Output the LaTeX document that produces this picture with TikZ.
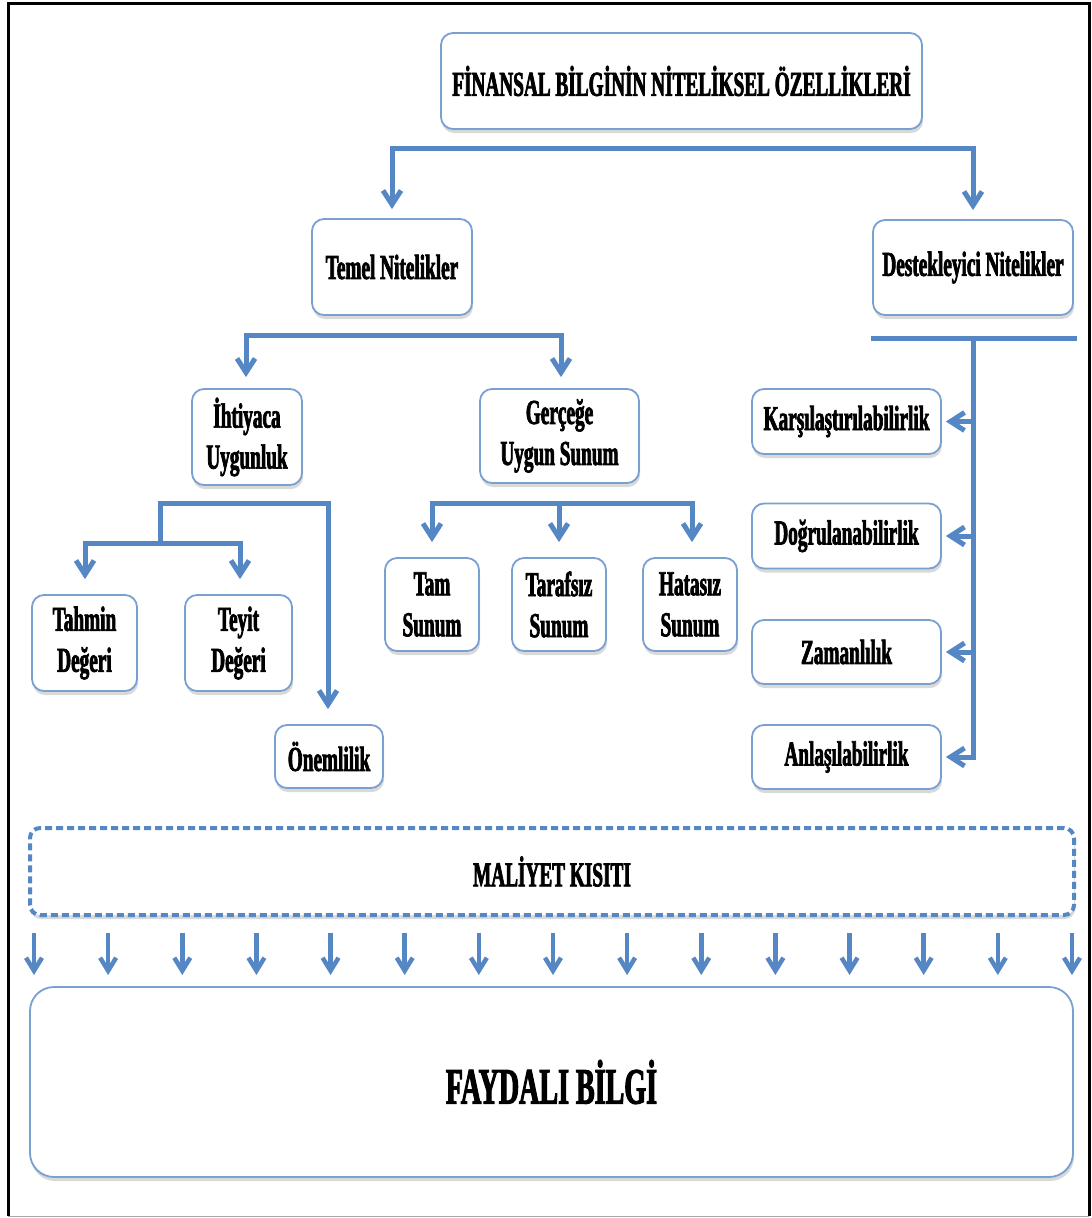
\documentclass[tikz,border=0pt]{standalone}
\usepackage{fontspec}
\setmainfont{Liberation Serif Bold}[FakeStretch=0.55, FakeBold=2]
\usetikzlibrary{arrows.meta,shadows}
\definecolor{linec}{RGB}{84,135,196}
\definecolor{boxc}{RGB}{122,160,210}
\begin{document}
\begin{tikzpicture}[x=1pt,y=-1pt,
  box/.style={draw=boxc, line width=1.8pt, rounded corners=12pt, fill=white, align=center,
    inner sep=0pt, font=\fontsize{35}{41}\selectfont,
    drop shadow={shadow xshift=1pt,shadow yshift=-4pt,opacity=0.15,fill=black}},
  conn/.style={draw=linec, line width=5pt, line cap=rect},
  arr/.style={draw=linec, line width=5pt, -{Straight Barb[length=14pt,width=18pt]}},
  sarr/.style={draw=linec, line width=4.5pt, -{Straight Barb[length=13pt,width=16pt]}},
]
\useasboundingbox (0,0) rectangle (1092,1218);
\fill[white] (0,0) rectangle (1092,1218);
% frame
\draw[black, line width=3pt] (8,1216) -- (8,3) -- (1089,3) -- (1089,1216);
\draw[gray!70, line width=1pt] (8,1216) -- (1089,1216);

% nodes
\node[box, minimum width=481, minimum height=96] (title) at (681.5,81) {FİNANSAL BİLGİNİN NİTELİKSEL ÖZELLİKLERİ};
\node[box, minimum width=160, minimum height=96] (temel) at (392,267) {Temel Nitelikler};
\node[box, minimum width=200, minimum height=95] (destek) at (973,267.5) {Destekleyici Nitelikler};
\node[box, minimum width=110, minimum height=96] (ihti) at (247,437) {İhtiyaca\\Uygunluk};
\node[box, minimum width=159, minimum height=94] (gerc) at (559.5,436) {Gerçeğe\\Uygun Sunum};
\node[box, minimum width=105, minimum height=96] (tahmin) at (84.5,643) {Tahmin\\Değeri};
\node[box, minimum width=107, minimum height=96] (teyit) at (238.5,643) {Teyit\\Değeri};
\node[box, minimum width=108, minimum height=63] (onem) at (329,756.5) {Önemlilik};
\node[box, minimum width=94, minimum height=93] (tam) at (432,604.5) {Tam\\Sunum};
\node[box, minimum width=94, minimum height=93] (taraf) at (559,604.5) {Tarafsız\\Sunum};
\node[box, minimum width=94, minimum height=93] (hata) at (690,604.5) {Hatasız\\Sunum};
\node[box, minimum width=189, minimum height=65] (kars) at (846.5,421.5) {Karşılaştırılabilirlik};
\node[box, minimum width=189, minimum height=65] (dogru) at (846.5,536) {Doğrulanabilirlik};
\node[box, minimum width=189, minimum height=64] (zaman) at (846.5,652) {Zamanlılık};
\node[box, minimum width=189, minimum height=64] (anla) at (846.5,757) {Anlaşılabilirlik};
\node[box, draw=linec, line width=4pt, dash pattern=on 7pt off 4pt, rounded corners=10pt,
  minimum width=1044, minimum height=87] (maliyet) at (552,871.5) {MALİYET KISITI};
\node[box, rounded corners=24pt, minimum width=1043, minimum height=190,
  font=\fontsize{51}{58}\selectfont] (fayda) at (551.5,1082) {FAYDALI BİLGİ};

% title bracket
\coordinate (t1) at (392,148);
\coordinate (t2) at (973,148);
\draw[conn] (t1) -- (t2);
\draw[arr, shorten >=9pt] (t1) -- (t1 |- temel.north);
\draw[arr, shorten >=9pt] (t2) -- (t2 |- destek.north);

% temel bracket
\coordinate (a1) at (246,335);
\coordinate (a2) at (561,335);
\draw[conn] (a1) -- (a2);
\draw[arr, shorten >=11pt] (a1) -- (a1 |- ihti.north);
\draw[arr, shorten >=11pt] (a2) -- (a2 |- gerc.north);

% destekleyici bracket
\coordinate (d1) at (873,338);
\coordinate (d2) at (1074,338);
\coordinate (dv) at (973,338);
\coordinate (dend) at (dv |- anla.east);
\draw[conn] (d1) -- (d2);
\draw[conn] (dv) -- (dend);
\foreach \n in {kars,dogru,zaman,anla}
  \draw[arr, shorten >=4pt] (dv |- \n.east) -- (\n.east);

% ihtiyaca bracket
\coordinate (i1) at (160,503);
\coordinate (i2) at (328,503);
\coordinate (i3) at (160,543);
\coordinate (i4) at (85,543);
\coordinate (i5) at (240,543);
\draw[conn] (i3) -- (i1) -- (i2);
\draw[conn] (i4) -- (i5);
\draw[arr, shorten >=15pt] (i2) -- (i2 |- onem.north);
\draw[arr, shorten >=15pt] (i4) -- (i4 |- tahmin.north);
\draw[arr, shorten >=15pt] (i5) -- (i5 |- teyit.north);

% gercege bracket
\coordinate (g1) at (432,503);
\coordinate (g2) at (692,503);
\coordinate (gm) at (559,503);
\draw[conn] (g1) -- (g2);
\draw[arr, shorten >=15pt] (g1) -- (g1 |- tam.north);
\draw[arr, shorten >=15pt] (gm) -- (gm |- taraf.north);
\draw[arr, shorten >=15pt] (g2) -- (g2 |- hata.north);

% cost arrows
\foreach \i in {0,...,14} {
  \pgfmathsetmacro{\xx}{34+74.14*\i}
  \coordinate (m\i) at (\xx,933);
  \coordinate (f\i) at (\xx,975);
  \draw[sarr] (m\i) -- (f\i);
}
\end{tikzpicture}
\end{document}
